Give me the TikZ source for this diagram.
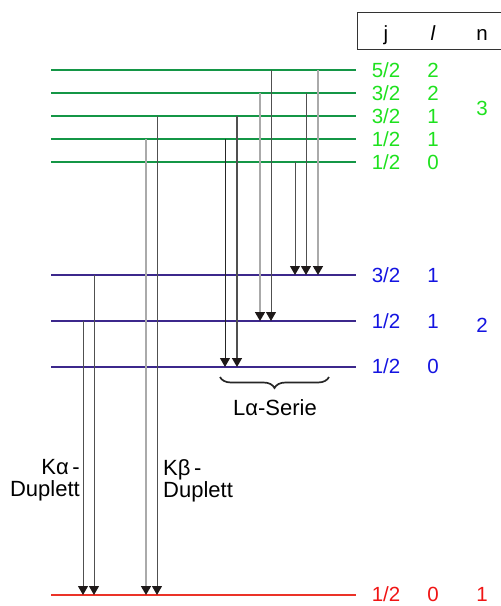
\documentclass[tikz,border=0pt]{standalone}
\usepackage{fontspec}
\setmainfont{Liberation Sans}
\usetikzlibrary{arrows.meta,decorations.pathreplacing}
\definecolor{lvgreen}{RGB}{20,150,70}
\definecolor{lvblue}{RGB}{60,40,140}
\definecolor{lvred}{RGB}{235,50,40}
\definecolor{txgreen}{RGB}{30,225,30}
\definecolor{txblue}{RGB}{20,20,225}
\definecolor{txred}{RGB}{240,20,20}
\definecolor{lgray}{RGB}{170,170,170}
\definecolor{dgray}{RGB}{80,80,80}
\definecolor{tipc}{RGB}{30,25,25}
\tikzset{
  lvl/.style={line width=2pt},
  arr/.style={line width=1pt, -{Triangle[length=9pt,width=10pt,color=tipc,fill=tipc]}},
  lab/.style={anchor=base, yshift=-7.5pt, inner sep=0pt, font=\fontsize{20.5}{22}\selectfont},
  txt/.style={inner sep=0pt, font=\fontsize{22}{22}\selectfont, align=left},
}
\begin{document}
\begin{tikzpicture}[x=1pt,y=-1pt]
\useasboundingbox (0,0) rectangle (501,606);
% header box
\draw[line width=1pt, black!80] (503,12) -- (357,12) -- (357,49) -- (503,49);
\node[lab, yshift=7.5pt] (hj) at (386,40) {j};
\node[lab, yshift=7.5pt] (hl) at (433,40) {\itshape l};
\node[lab, yshift=7.5pt] (hn) at (482,40) {n};
% levels (left ends)
\foreach \n/\y in {M1/70,M2/93,M3/116,M4/139,M5/162}{
  \coordinate (\n) at (51,\y); \coordinate (\n r) at (356,\y);
  \draw[lvl, lvgreen] (\n) -- (\n r);}
\foreach \n/\y in {L3/275,L2/321,L1/367}{
  \coordinate (\n) at (51,\y); \coordinate (\n r) at (356,\y);
  \draw[lvl, lvblue] (\n) -- (\n r);}
\coordinate (K) at (51,595); \coordinate (Kr) at (356,595);
\draw[line width=1.6pt, lvred] (K) -- (Kr);
% arrow columns
\foreach \c/\x in {a/83,b/94,c/146,d/157,e/225,f/237,g/260,h/271,i/295,j/306,k/318}{
  \coordinate (x\c) at (\x,0);}
\draw[arr, dgray] (xa |- L2) -- (xa |- K);
\draw[arr, dgray] (xb |- L3) -- (xb |- K);
\draw[arr, lgray, line width=1.5pt] (xc |- M4) -- (xc |- K);
\draw[arr, dgray] (xd |- M3) -- (xd |- K);
\draw[arr, black!85] (xe |- M4) -- (xe |- L1);
\draw[arr, dgray, line width=1.4pt] (xf |- M3) -- (xf |- L1);
\draw[arr, lgray, line width=1.5pt] (xg |- M2) -- (xg |- L2);
\draw[arr, dgray] (xh |- M1) -- (xh |- L2);
\draw[arr, dgray] (xi |- M5) -- (xi |- L3);
\draw[arr, dgray] (xj |- M2) -- (xj |- L3);
\draw[arr, lgray, line width=1.5pt] (xk |- M1) -- (xk |- L3);
% brace
\coordinate (b1) at (220,377); \coordinate (b2) at (329,377);
\draw[line width=1.7pt, black!85, decorate, decoration={brace, amplitude=11pt, mirror}] (b1) -- (b2);
\node[txt] (ls) at (275,408) {Lα-Serie};
% K labels
\node[txt, anchor=north east, align=right] (ka) at (80,459) {Kα\,-\\Duplett};
\node[txt, anchor=north west] (kb) at (163,459) {Kβ\,-\\Duplett};
% quantum numbers
\begin{scope}[txgreen]
\foreach \y/\j/\l in {70/5\slash2/2,93/3\slash2/2,116/3\slash2/1,139/1\slash2/1,162/1\slash2/0}{
  \node[lab] at (386,\y) {\j}; \node[lab] at (433,\y) {\l};}
\node[lab] (n3) at (482,108) {3};
\end{scope}
\begin{scope}[txblue]
\node[lab] (j3) at (386,275) {3/2}; \node[lab] (l3) at (433,275) {1};
\node[lab] (j2) at (386,321) {1/2}; \node[lab] (l2) at (433,321) {1};
\node[lab] (n2) at (482,325) {2};
\node[lab] (j1) at (386,366) {1/2}; \node[lab] (l1) at (433,366) {0};
\end{scope}
\begin{scope}[txred]
\node[lab] (jk) at (386,594) {1/2}; \node[lab] (lk) at (433,594) {0};
\node[lab] (nk) at (482,594) {1};
\end{scope}
\end{tikzpicture}
\end{document}
